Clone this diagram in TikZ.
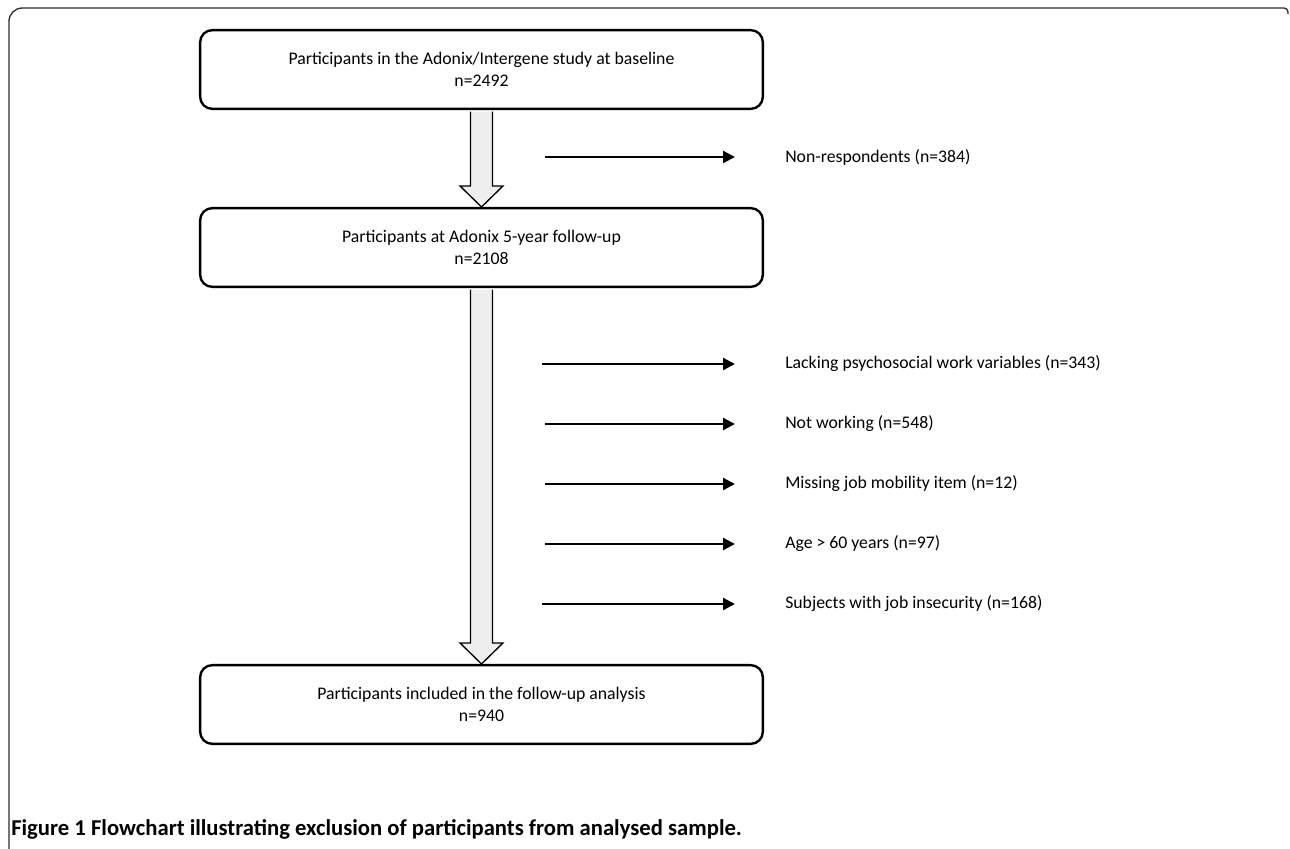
\documentclass[tikz,border=0pt]{standalone}
\usepackage{fontspec}
\setmainfont{Carlito}
\usetikzlibrary{arrows.meta,calc,positioning}
\definecolor{arrow_fill}{RGB}{238,238,238}
\definecolor{frame_gray}{RGB}{45,45,45}

\tikzset{
    stage/.style={draw, line width=1.8pt, rounded corners=9pt, minimum width=422pt, minimum height=59pt, align=center, font=\fontsize{13.3}{16.5}\selectfont},
    reason/.style={anchor=west, inner sep=0pt, font=\fontsize{13.3}{15}\selectfont},
    drop/.style={->, line width=1.7pt, shorten >=37.5pt},
    block_arrow/.style={draw, line width=1pt, fill=arrow_fill, line join=miter},
    caption/.style={anchor=west, inner sep=0pt, font=\fontsize{17}{19}\selectfont\bfseries}
}

\begin{document}
\begin{tikzpicture}[auto,>={Triangle[length=9pt,width=9pt]},x=0.75pt,y=-0.75pt]
        \useasboundingbox (0,0) rectangle (1290,849);
        \draw[frame_gray, line width=1pt] (9,849) [rounded corners=10pt] -- (9,8) [rounded corners=3pt] -- (1288,8) -- (1288,14);

        \node[stage] (baseline_box) at (481.5,69.5) {Participants in the Adonix/Intergene study at baseline\\n=2492};
        \node[stage] (followup_box) at (481.5,247.5) {Participants at Adonix 5-year follow-up\\n=2108};
        \node[stage] (analysis_box) at (481.5,704.5) {Participants included in the follow-up analysis\\n=940};

        \draw[block_arrow] ($(baseline_box.south)+(-11,1.5)$) -- ($(followup_box.north)+(-11,-21)$) -- ($(followup_box.north)+(-21.5,-21)$) -- (followup_box.north) -- ($(followup_box.north)+(21.5,-21)$) -- ($(followup_box.north)+(11,-21)$) -- ($(baseline_box.south)+(11,1.5)$);
        \draw[block_arrow] ($(followup_box.south)+(-11,1.5)$) -- ($(analysis_box.north)+(-11,-21)$) -- ($(analysis_box.north)+(-21.5,-21)$) -- (analysis_box.north) -- ($(analysis_box.north)+(21.5,-21)$) -- ($(analysis_box.north)+(11,-21)$) -- ($(followup_box.south)+(11,1.5)$);

        \draw[] (785,157) node[reason] (non_respondents) {Non-respondents (n=384)};
        \draw[] (785,364) node[reason] (lacking_work) {Lacking psychosocial work variables (n=343)};
        \draw[] (785,424) node[reason] (not_working) {Not working (n=548)};
        \draw[] (785,484) node[reason] (missing_item) {Missing job mobility item (n=12)};
        \draw[] (785,544) node[reason] (over_sixty) {Age > 60 years (n=97)};
        \draw[] (785,604) node[reason] (job_insecurity) {Subjects with job insecurity (n=168)};

        \coordinate (non_respondents_tail) at (545,157);
        \coordinate (lacking_work_tail) at (542,364);
        \coordinate (not_working_tail) at (545,424);
        \coordinate (missing_item_tail) at (545,484);
        \coordinate (over_sixty_tail) at (545,544);
        \coordinate (job_insecurity_tail) at (542,604);

        \draw[drop] (non_respondents_tail) -- (non_respondents.west);
        \draw[drop] (lacking_work_tail) -- (lacking_work.west);
        \draw[drop] (not_working_tail) -- (not_working.west);
        \draw[drop] (missing_item_tail) -- (missing_item.west);
        \draw[drop] (over_sixty_tail) -- (over_sixty.west);
        \draw[drop] (job_insecurity_tail) -- (job_insecurity.west);

        \node[caption] (figure_caption) at (11,829) {Figure 1 Flowchart illustrating exclusion of participants from analysed sample.};
    \end{tikzpicture}
\end{document}
